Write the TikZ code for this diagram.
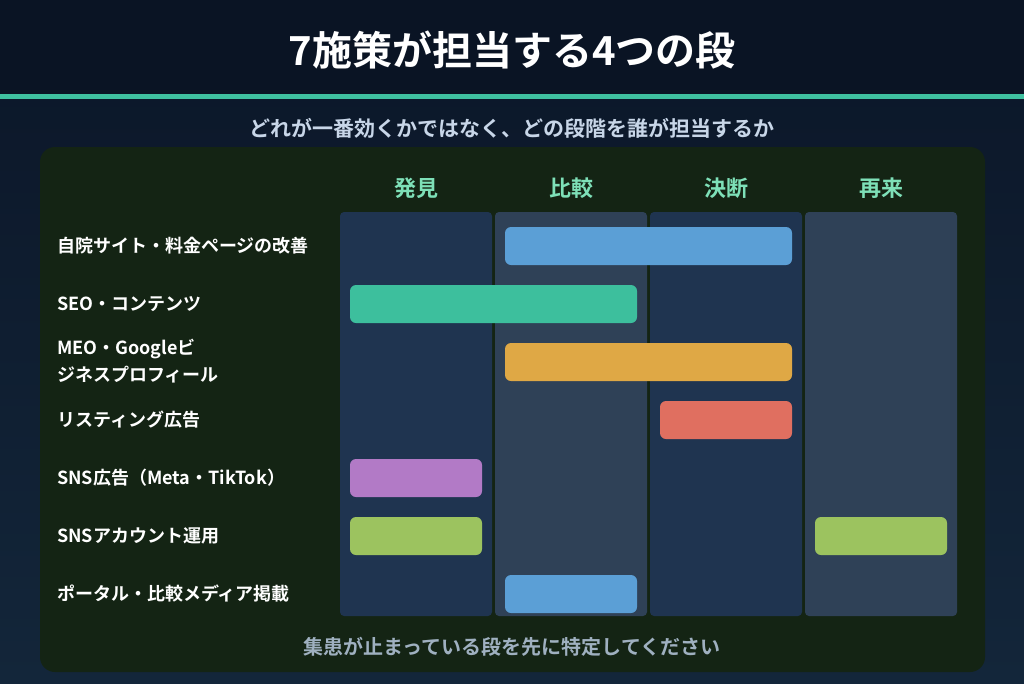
\documentclass[tikz,border=0pt]{standalone}
\usepackage{fontspec}
\setmainfont{Noto Sans CJK JP}[BoldFont={Noto Sans CJK JP Bold}]
\newfontfamily\jpb{Noto Sans CJK JP Bold}
\definecolor{bgtop}{HTML}{0B1628}
\definecolor{bgbot}{HTML}{13263A}
\definecolor{head}{HTML}{0A1424}
\definecolor{teal}{HTML}{3FC1A0}
\definecolor{panel}{HTML}{142414}
\definecolor{colA}{HTML}{1F3450}
\definecolor{colB}{HTML}{2F4157}
\definecolor{hdr}{HTML}{7EE0B8}
\definecolor{sub}{HTML}{C8D6E8}
\definecolor{foot}{HTML}{9FB0C0}
\definecolor{cblue}{HTML}{5B9FD6}
\definecolor{cteal}{HTML}{3DBF9D}
\definecolor{corange}{HTML}{DFA845}
\definecolor{cred}{HTML}{E06F60}
\definecolor{cpurple}{HTML}{B27AC6}
\definecolor{cgreen}{HTML}{9CC35F}
\begin{document}
\begin{tikzpicture}[x=1pt,y=-1pt,
 col/.style={rounded corners=4pt},
 bar/.style={rounded corners=6pt},
 lab/.style={anchor=west,text=white,font=\jpb\fontsize{18}{27}\selectfont,align=left,inner sep=0pt},
 ch/.style={text=hdr,font=\jpb\fontsize{22}{24}\selectfont}]
\useasboundingbox (0,0) rectangle (1024,683);
\shade[top color=bgtop,bottom color=bgbot] (0,0) rectangle (1024,683);
\fill[head] (0,0) rectangle (1024,94);
\fill[teal] (0,94) rectangle (1024,99);
\node[text=white,font=\jpb\fontsize{40}{44}\selectfont] (title) at (512,50) {7施策が担当する4つの段};
\node[text=sub,font=\jpb\fontsize{21}{24}\selectfont] (subt) at (512,128) {どれが一番効くかではなく、どの段階を誰が担当するか};
\fill[panel,rounded corners=15pt] (40,147) rectangle (985,672);
\fill[colA,col] (340,212) rectangle (492,616);
\fill[colB,col] (495,212) rectangle (647,616);
\fill[colA,col] (650,212) rectangle (802,616);
\fill[colB,col] (805,212) rectangle (957,616);
\node[ch] (h1) at (416,188) {発見};
\node[ch] (h2) at (571,188) {比較};
\node[ch] (h3) at (726,188) {決断};
\node[ch] (h4) at (881,188) {再来};
\node[lab] (l1) at (57,246) {自院サイト・料金ページの改善};
\node[lab] (l2) at (57,304) {SEO・コンテンツ};
\node[lab] (l3) at (57,361) {MEO・Googleビ\\ジネスプロフィール};
\node[lab] (l4) at (57,420) {リスティング広告};
\node[lab] (l5) at (57,478) {SNS広告（Meta・TikTok）};
\node[lab] (l6) at (57,536) {SNSアカウント運用};
\node[lab] (l7) at (57,594) {ポータル・比較メディア掲載};
\fill[cblue,bar] (505,227) rectangle (792,265);
\fill[cteal,bar] (350,285) rectangle (637,323);
\fill[corange,bar] (505,343) rectangle (792,381);
\fill[cred,bar] (660,401) rectangle (792,439);
\fill[cpurple,bar] (350,459) rectangle (482,497);
\fill[cgreen,bar] (350,517) rectangle (482,555);
\fill[cgreen,bar] (815,517) rectangle (947,555);
\fill[cblue,bar] (505,575) rectangle (637,613);
\node[text=foot,font=\jpb\fontsize{20}{24}\selectfont] (ft) at (512,647) {集患が止まっている段を先に特定してください};
\end{tikzpicture}
\end{document}
